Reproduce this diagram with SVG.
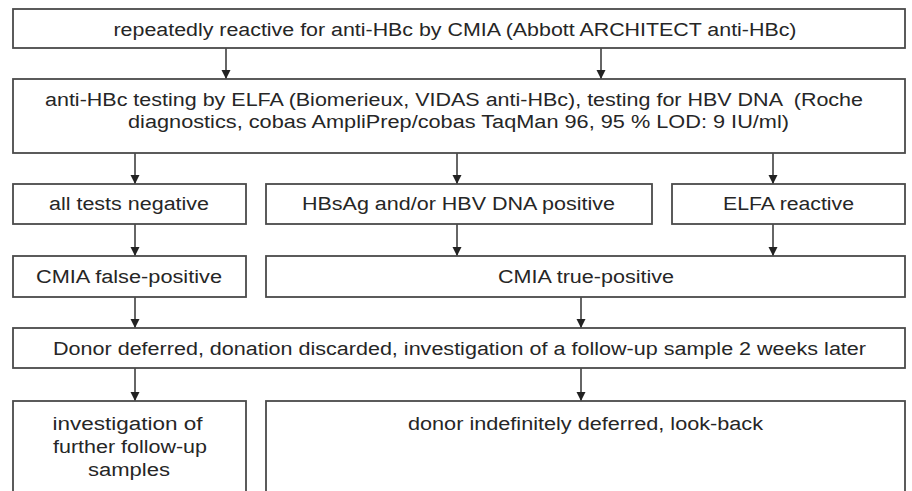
<svg xmlns="http://www.w3.org/2000/svg" width="912" height="491" viewBox="0 0 912 491">
<defs>
<style>
.box{fill:#fff;stroke:#4a4a4a;stroke-width:1.8}
.t{font-family:"Liberation Sans",Arial,sans-serif;font-size:18px;fill:#262626;text-anchor:middle}
.c{stroke:#333;stroke-width:1.5;fill:none;marker-end:url(#ah)}
</style>
<marker id="ah" markerWidth="10" markerHeight="10" refX="9" refY="5" orient="auto" markerUnits="userSpaceOnUse">
<path d="M0,0.5 L9,5 L0,9.5 Z" fill="#222"/>
</marker>
</defs>
<rect width="912" height="491" fill="#fff"/>
<g id="connectors">
<line class="c" x1="226" y1="48" x2="226" y2="79"/>
<line class="c" x1="601" y1="48" x2="601" y2="79"/>
<line class="c" x1="135" y1="153" x2="135" y2="184"/>
<line class="c" x1="457" y1="153" x2="457" y2="184"/>
<line class="c" x1="773" y1="153" x2="773" y2="184"/>
<line class="c" x1="135" y1="224" x2="135" y2="256"/>
<line class="c" x1="457" y1="224" x2="457" y2="256"/>
<line class="c" x1="773" y1="224" x2="773" y2="256"/>
<line class="c" x1="135" y1="297" x2="135" y2="328"/>
<line class="c" x1="581" y1="297" x2="581" y2="328"/>
<line class="c" x1="135" y1="368" x2="135" y2="401"/>
<line class="c" x1="581" y1="368" x2="581" y2="401"/>
</g>
<g id="n1"><rect class="box" x="13" y="9" width="892" height="39"/><text class="t" x="455" y="36" textLength="683" lengthAdjust="spacingAndGlyphs">repeatedly reactive for anti-HBc by CMIA (Abbott ARCHITECT anti-HBc)</text></g>
<g id="n2"><rect class="box" x="13" y="79" width="892" height="74"/><text class="t" x="454" y="106" textLength="818" lengthAdjust="spacingAndGlyphs" xml:space="preserve">anti-HBc testing by ELFA (Biomerieux, VIDAS anti-HBc), testing for HBV DNA  (Roche</text><text class="t" x="458.5" y="128" textLength="661" lengthAdjust="spacingAndGlyphs">diagnostics, cobas AmpliPrep/cobas TaqMan 96, 95 % LOD: 9 IU/ml)</text></g>
<g id="n3"><rect class="box" x="13" y="184" width="233" height="40"/><text class="t" x="129" y="210" textLength="160" lengthAdjust="spacingAndGlyphs">all tests negative</text></g>
<g id="n4"><rect class="box" x="266" y="184" width="386" height="40"/><text class="t" x="458.5" y="210" textLength="313" lengthAdjust="spacingAndGlyphs">HBsAg and/or HBV DNA positive</text></g>
<g id="n5"><rect class="box" x="672" y="184" width="233" height="40"/><text class="t" x="788.5" y="210" textLength="131" lengthAdjust="spacingAndGlyphs">ELFA reactive</text></g>
<g id="n6"><rect class="box" x="13" y="256" width="233" height="41"/><text class="t" x="129" y="283" textLength="186" lengthAdjust="spacingAndGlyphs">CMIA false-positive</text></g>
<g id="n7"><rect class="box" x="266" y="256" width="639" height="41"/><text class="t" x="586" y="283" textLength="176" lengthAdjust="spacingAndGlyphs">CMIA true-positive</text></g>
<g id="n8"><rect class="box" x="13" y="328" width="892" height="40"/><text class="t" x="459.5" y="355" textLength="813" lengthAdjust="spacingAndGlyphs">Donor deferred, donation discarded, investigation of a follow-up sample 2 weeks later</text></g>
<g id="n9"><rect class="box" x="13" y="401" width="233" height="110"/><text class="t" x="127.5" y="430" textLength="150" lengthAdjust="spacingAndGlyphs">investigation of</text><text class="t" x="130" y="453" textLength="154" lengthAdjust="spacingAndGlyphs">further follow-up</text><text class="t" x="129" y="476" textLength="82" lengthAdjust="spacingAndGlyphs">samples</text></g>
<g id="n10"><rect class="box" x="266" y="401" width="639" height="110"/><text class="t" x="585.5" y="430" textLength="355" lengthAdjust="spacingAndGlyphs">donor indefinitely deferred, look-back</text></g>
</svg>
